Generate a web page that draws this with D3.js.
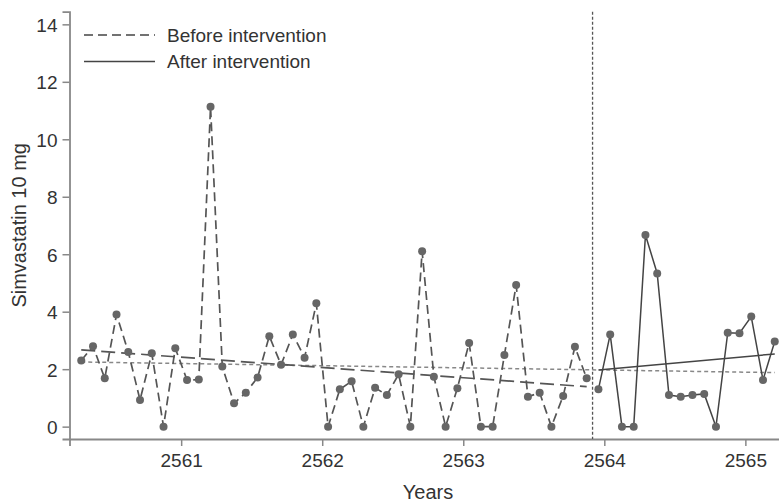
<!DOCTYPE html>
<html lang="en">
<head>
  <meta charset="UTF-8">
  <title>Simvastatin 10 mg – interrupted time series</title>
  <script src="https://d3js.org/d3.v7.min.js"></script>
  <style>
    body {
      margin: 0;
      background: #fff;
    }

    svg {
      display: block;
      font-family: "Liberation Sans", Arial, sans-serif;
    }

    .tick text {
      font-size: 19px;
      fill: #333;
    }
  </style>
</head>
<body>

<svg width="779" height="503"></svg>

<script>
  // monthly values, first month sits 8.5 months before the 2561 tick
  const firstMonth = 2561 - 8.5 / 12;

  const beforeValues = [
    2.3, 2.8, 1.68, 3.9, 2.6, 0.93, 2.55, 0, 2.73, 1.62, 1.64, 11.13,
    2.09, 0.81, 1.18, 1.71, 3.15, 2.15, 3.21, 2.4, 4.29, 0, 1.3, 1.58,
    0, 1.35, 1.1, 1.82, 0, 6.1, 1.74, 0, 1.34, 2.91, 0, 0,
    2.49, 4.93, 1.04, 1.18, 0, 1.07, 2.78, 1.68
  ];

  const afterValues = [
    1.3, 3.21, 0, 0, 6.67, 5.33, 1.1, 1.04, 1.1, 1.14, 0, 3.27,
    3.25, 3.83, 1.62, 2.96
  ];

  // fitted lines, value at first and last month of each span
  const beforeTrend = [2.67, 1.39];
  const afterTrend = [1.97, 2.53];
  const overallTrend = [2.25, 1.88];

  const yearTicks = [2561, 2562, 2563, 2564, 2565];
  const yTicks = [0, 2, 4, 6, 8, 10, 12, 14];

  const legendItems = [
    { label: "Before intervention", dash: "9,5" },
    { label: "After intervention", dash: null }
  ];

  const svg = d3.select("svg");

  const monthOf = i => firstMonth + i / 12;
  const before = beforeValues.map((v, i) => ({ t: monthOf(i), v }));
  const after = afterValues.map((v, i) => ({ t: monthOf(i + beforeValues.length), v }));
  const all = before.concat(after);

  const x = d3.scaleLinear()
          .domain([all[0].t - 1 / 12, all[all.length - 1].t + 1 / 12])
          .range([69.5, 786.5]);

  const y = d3.scaleLinear()
          .domain([-0.43, 14.44])
          .range([439, 11.7]);

  // axes
  svg.append("g")
          .attr("transform", `translate(0,${y(-0.43)})`)
          .call(d3.axisBottom(x).tickValues(yearTicks).tickFormat(d3.format("d")).tickSizeOuter(0).tickSize(7).tickPadding(8));

  const yAxis = svg.append("g")
          .attr("transform", `translate(${x.range()[0]},0)`)
          .call(d3.axisLeft(y).tickValues(yTicks).tickSizeOuter(0).tickSize(7).tickPadding(5));

  svg.selectAll(".domain").attr("stroke", "#888").attr("stroke-width", 1.8);
  svg.selectAll(".tick line").attr("stroke", "#888").attr("stroke-width", 1.5);
  yAxis.selectAll(".tick text").attr("dy", "0.36em");

  // axis titles
  svg.append("text")
          .attr("x", (x.range()[0] + x.range()[1]) / 2)
          .attr("y", 499)
          .attr("text-anchor", "middle")
          .attr("font-size", 20)
          .attr("fill", "#333")
          .text("Years");

  svg.append("text")
          .attr("transform", `translate(26,${(y.range()[0] + y.range()[1]) / 2}) rotate(-90)`)
          .attr("text-anchor", "middle")
          .attr("font-size", 20)
          .attr("fill", "#333")
          .text("Simvastatin 10 mg");

  // intervention marker, between last before month and first after month
  const cut = (before[before.length - 1].t + after[0].t) / 2;
  svg.append("line")
          .attr("x1", x(cut)).attr("x2", x(cut))
          .attr("y1", y(14.44)).attr("y2", y(-0.43))
          .attr("stroke", "#555")
          .attr("stroke-width", 1.3)
          .attr("stroke-dasharray", "3,2");

  const line = d3.line().x(d => x(d.t)).y(d => y(d.v));

  // trend lines
  const trend = (pts, vals) => [
    { t: pts[0].t, v: vals[0] },
    { t: pts[pts.length - 1].t, v: vals[1] }
  ];

  svg.append("path")
          .attr("d", line(trend(all, overallTrend)))
          .attr("fill", "none")
          .attr("stroke", "#888")
          .attr("stroke-width", 1.5)
          .attr("stroke-dasharray", "4,3");

  svg.append("path")
          .attr("d", line(trend(before, beforeTrend)))
          .attr("fill", "none")
          .attr("stroke", "#555")
          .attr("stroke-width", 1.7)
          .attr("stroke-dasharray", "14,6");

  svg.append("path")
          .attr("d", line(trend(after, afterTrend)))
          .attr("fill", "none")
          .attr("stroke", "#444")
          .attr("stroke-width", 1.5);

  // series
  svg.append("path")
          .attr("d", line(before))
          .attr("fill", "none")
          .attr("stroke", "#555")
          .attr("stroke-width", 1.7)
          .attr("stroke-dasharray", "9,5");

  svg.append("path")
          .attr("d", line(after))
          .attr("fill", "none")
          .attr("stroke", "#444")
          .attr("stroke-width", 1.5);

  svg.append("g")
          .selectAll("circle")
          .data(all)
          .join("circle")
          .attr("cx", d => x(d.t))
          .attr("cy", d => y(d.v))
          .attr("r", 4)
          .attr("fill", "#666");

  // legend
  const legend = svg.append("g")
          .selectAll("g")
          .data(legendItems)
          .join("g")
          .attr("transform", (d, i) => `translate(84,${35 + i * 26.5})`);

  legend.append("line")
          .attr("x1", 0).attr("x2", 71)
          .attr("stroke", "#444")
          .attr("stroke-width", 1.5)
          .attr("stroke-dasharray", d => d.dash);

  legend.append("text")
          .attr("x", 83)
          .attr("dy", "0.36em")
          .attr("font-size", 19)
          .attr("fill", "#333")
          .text(d => d.label);
</script>
</body>
</html>
